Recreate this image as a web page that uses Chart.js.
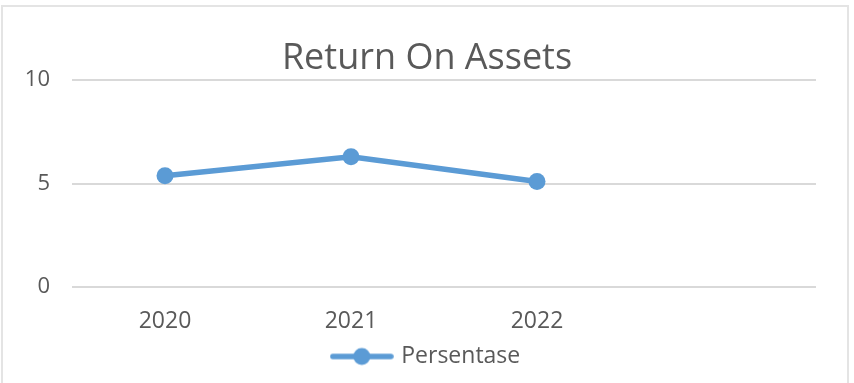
<!DOCTYPE html>
<html>
<head>
<meta charset="utf-8">
<script src="https://cdn.jsdelivr.net/npm/chart.js@4/dist/chart.umd.min.js"></script>
<style>
html,body{margin:0;padding:0;background:#fff;}
#wrap{position:relative;width:854px;height:383px;overflow:hidden;}
#frame{position:absolute;left:1px;top:5px;width:848px;height:400px;border:2px solid #e4e4e4;box-sizing:border-box;}
canvas{position:absolute;left:0;top:0;}
</style>
</head>
<body>
<div id="wrap">
<div id="frame"></div>
<canvas id="c" width="854" height="383"></canvas>
</div>
<script>
const categories = ['2020', '2021', '2022', ''];
const persentase = [5.38, 6.3, 5.1, null];
const yTicks = [0, 5, 10];
const seriesName = 'Persentase';
const chartTitle = 'Return On Assets';

const blue = '#5B9BD5';
const textColor = '#595959';
const fontFamily = "'Open Sans', 'Liberation Sans', sans-serif";

function legendSymbol() {
  const cv = document.createElement('canvas');
  cv.width = 64; cv.height = 20;
  const g = cv.getContext('2d');
  g.strokeStyle = blue; g.lineWidth = 5.5; g.lineCap = 'round';
  g.beginPath(); g.moveTo(3, 10); g.lineTo(61, 10); g.stroke();
  g.fillStyle = blue;
  g.beginPath(); g.arc(32, 10, 8.5, 0, Math.PI * 2); g.fill();
  return cv;
}
const sym = legendSymbol();

new Chart(document.getElementById('c'), {
  type: 'line',
  data: {
    labels: categories,
    datasets: [{
      label: seriesName,
      data: persentase,
      borderColor: blue,
      backgroundColor: blue,
      borderWidth: 5.5,
      pointRadius: 8.5,
      pointHoverRadius: 8.5,
      pointBackgroundColor: blue,
      pointBorderWidth: 0,
      tension: 0
    }]
  },
  options: {
    responsive: false,
    animation: false,
    layout: { padding: { left: 0, right: 0, top: 0, bottom: 5 } },
    scales: {
      x: {
        offset: true,
        grid: { display: false, drawTicks: false },
        border: { display: false },
        ticks: { color: textColor, font: { family: fontFamily, size: 23 }, padding: 21 },
        afterFit: (s) => { s.height = 56; }
      },
      y: {
        min: 0, max: 10,
        afterBuildTicks: (s) => { s.ticks = yTicks.map(v => ({ value: v })); },
        grid: { color: '#d9d9d9', lineWidth: 2, drawTicks: false },
        border: { display: false },
        ticks: { color: textColor, font: { family: fontFamily, size: 22 }, padding: 22 },
        afterFit: (s) => { s.width = 72; }
      },
      yRight: {
        position: 'right',
        min: 0, max: 10,
        grid: { display: false, drawTicks: false },
        border: { display: false },
        ticks: { display: false },
        afterFit: (s) => { s.width = 38; }
      }
    },
    plugins: {
      title: {
        display: true,
        text: chartTitle,
        color: textColor,
        font: { family: fontFamily, size: 36, weight: 'normal' },
        padding: { top: 37, bottom: 0 }
      },
      legend: {
        position: 'bottom',
        labels: {
          color: textColor,
          font: { family: fontFamily, size: 23 },
          usePointStyle: true,
          pointStyleWidth: 56,
          padding: 2,
          generateLabels: (chart) => [{
            text: seriesName,
            fillStyle: blue,
            strokeStyle: blue,
            fontColor: textColor,
            lineWidth: 0,
            pointStyle: sym,
            hidden: false,
            datasetIndex: 0
          }]
        }
      },
      tooltip: { enabled: false }
    }
  }
});
</script>
</body>
</html>
